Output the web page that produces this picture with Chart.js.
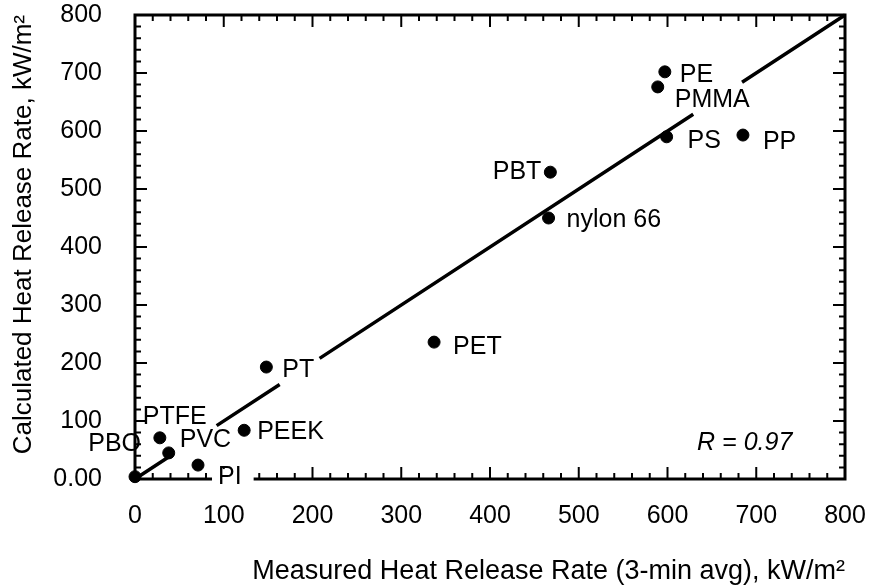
<!DOCTYPE html>
<html>
<head>
<meta charset="utf-8">
<script src="https://cdn.jsdelivr.net/npm/chart.js@4"></script>
<style>
  html, body { margin: 0; padding: 0; background: #fff; }
  #wrap { width: 870px; height: 588px; }
</style>
</head>
<body>
<div id="wrap"><canvas id="hrrChart" width="870" height="588"></canvas></div>
<script>
// polymers, measured (x) and calculated (y) heat release rate, kW/m2
const polymers = ["PE", "PMMA", "PS", "PP", "PBT", "nylon 66", "PET", "PT", "PEEK", "PTFE", "PVC", "PI", "PBO"];
const measured = [597, 589, 599, 685, 468, 466, 337, 148, 123, 28, 38, 71, 0];
const calculated = [702, 676, 590, 593, 529, 450, 236, 193, 84, 71, 45, 24, 4];

// y = x line, drawn in pieces (gaps leave room for the labels)
const fitSegments = [[0, 43], [92, 163], [208, 629], [684, 800]];

const xTicks = [0, 100, 200, 300, 400, 500, 600, 700, 800];
const yTicks = [0, 100, 200, 300, 400, 500, 600, 700, 800];
const rText = "R = 0.97";

// label placement next to each dot: dx, dy in px, align
const labelPlace = {
  "PE": [15, 3, "left"],
  "PMMA": [17, 13, "left"],
  "PS": [21, 4, "left"],
  "PP": [20, 7, "left"],
  "PBT": [-9, 0, "right"],
  "nylon 66": [18, 2, "left"],
  "PET": [19, 5, "left"],
  "PT": [16, 3, "left"],
  "PEEK": [13, 2, "left"],
  "PTFE": [-17, -21, "left"],
  "PVC": [11, -13, "left"],
  "PI": [20, 12, "left"],
  "PBO": [6, -33, "right"]
};

const FONT = "'Liberation Sans', Arial, Helvetica, sans-serif";

const points = measured.map((x, i) => ({x: x, y: calculated[i]}));

const fitPoints = [];
fitSegments.forEach((seg, i) => {
  if (i > 0) fitPoints.push({x: seg[0] - 1, y: null});
  fitPoints.push({x: seg[0], y: seg[0]});
  fitPoints.push({x: seg[1], y: seg[1]});
});

const frameTicks = {
  id: "frameTicks",
  beforeDatasetsDraw(chart) {
    const ctx = chart.ctx;
    const a = chart.chartArea;
    const xs = chart.scales.x, ys = chart.scales.y;
    ctx.save();
    ctx.strokeStyle = "#000";
    ctx.lineWidth = 2;
    for (let v = 0; v <= 800; v += 20) {
      const len = v % 100 === 0 ? 12 : 6;
      const px = xs.getPixelForValue(v);
      const py = ys.getPixelForValue(v);
      ctx.beginPath();
      ctx.moveTo(px, a.bottom); ctx.lineTo(px, a.bottom - len);
      ctx.moveTo(px, a.top); ctx.lineTo(px, a.top + len);
      ctx.moveTo(a.left, py); ctx.lineTo(a.left + len, py);
      ctx.moveTo(a.right, py); ctx.lineTo(a.right - len, py);
      ctx.stroke();
    }
    ctx.lineWidth = 3;
    ctx.strokeRect(a.left, a.top, a.right - a.left, a.bottom - a.top);
    ctx.restore();
  }
};

const pointLabels = {
  id: "pointLabels",
  afterDatasetsDraw(chart) {
    const ctx = chart.ctx;
    const meta = chart.getDatasetMeta(0);
    ctx.save();
    ctx.font = "25px " + FONT;
    ctx.fillStyle = "#000";
    ctx.textBaseline = "middle";
    meta.data.forEach((pt, i) => {
      const name = polymers[i];
      const p = labelPlace[name];
      const tx = pt.x + p[0], ty = pt.y + p[1];
      ctx.textAlign = p[2];
      if (name === "PI") {
        const w = ctx.measureText(name).width;
        ctx.fillStyle = "#fff";
        ctx.fillRect(tx - 6, ty - 8, w + 18, 16);
        ctx.fillStyle = "#000";
      }
      ctx.fillText(name, tx, ty);
    });
    ctx.font = "italic 25px " + FONT;
    ctx.textAlign = "center";
    ctx.fillText(rText, chart.scales.x.getPixelForValue(687), chart.scales.y.getPixelForValue(62));
    ctx.restore();
  }
};

new Chart(document.getElementById("hrrChart"), {
  type: "scatter",
  data: {
    datasets: [
      {
        label: "polymers",
        data: points,
        backgroundColor: "#000",
        borderColor: "#000",
        pointRadius: 6,
        pointHoverRadius: 6,
        clip: false
      },
      {
        type: "line",
        label: "fit",
        data: fitPoints,
        borderColor: "#000",
        borderWidth: 3.5,
        pointRadius: 0,
        spanGaps: false,
        fill: false,
        tension: 0,
        clip: false
      }
    ]
  },
  options: {
    responsive: false,
    animation: false,
    events: [],
    layout: { padding: { left: 0, top: 15, right: 25, bottom: 0 } },
    plugins: { legend: { display: false }, tooltip: { enabled: false } },
    scales: {
      x: {
        type: "linear",
        min: 0, max: 800,
        afterBuildTicks: s => { s.ticks = xTicks.map(v => ({value: v})); },
        afterFit: s => { s.height = 109; s.paddingLeft = 0; s.paddingRight = 0; },
        grid: { display: false },
        border: { display: false },
        ticks: { color: "#000", padding: 14, maxRotation: 0, font: { size: 25, family: FONT } },
        title: {
          display: true,
          text: "Measured Heat Release Rate (3-min avg), kW/m²",
          align: "end",
          color: "#000",
          font: { size: 27, family: FONT },
          padding: { top: 12, bottom: 0 }
        }
      },
      y: {
        type: "linear",
        min: 0, max: 800,
        afterBuildTicks: s => { s.ticks = yTicks.map(v => ({value: v})); },
        afterFit: s => { s.width = 135; s.paddingTop = 0; s.paddingBottom = 0; },
        grid: { display: false },
        border: { display: false },
        ticks: {
          color: "#000", padding: 25,
          font: { size: 25, family: FONT },
          callback: v => v === 0 ? "0.00" : String(v)
        },
        title: {
          display: true,
          text: "Calculated Heat Release Rate, kW/m²",
          align: "end",
          color: "#000",
          font: { size: 26, family: FONT },
          padding: { top: 8, bottom: 0 }
        }
      }
    }
  },
  plugins: [frameTicks, pointLabels]
});
</script>
</body>
</html>
